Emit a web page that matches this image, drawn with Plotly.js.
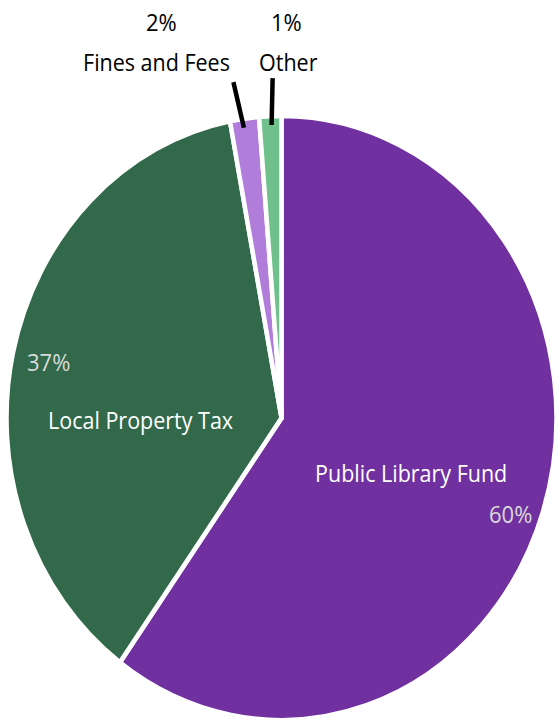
<!DOCTYPE html>
<html>
<head>
<meta charset="utf-8">
<script src="https://cdn.plot.ly/plotly-3.0.1.min.js"></script>
<style>
  html, body { margin:0; padding:0; background:#ffffff; overflow:hidden; width:557px; height:721px; }
  #chart { width:557px; height:656px; transform:scaleY(1.09909); transform-origin:0 0; }
</style>
</head>
<body>
<div id="chart"></div>
<script>
// ---- data ----
const categories = ['Public Library Fund', 'Local Property Tax', 'Fines and Fees', 'Other'];
const shares = [60.0, 37.0, 1.7, 1.3];
const sliceColors = ['#7030A0', '#31694A', '#B07DDA', '#70C08C'];

// ---- layout helpers ----
const W = 557, H = 656, S = 721 / 656;
const CX = 281.5, CY = 418 / S, R = 275;          // pie centre / radius in unscaled px
const px = x => x / W;
const py = y => 1 - (y / S) / H;                   // y measured on the final (scaled) picture

const total = shares.reduce((a, b) => a + b, 0);
const pctText = shares.map(v => Math.round(v / total * 100) + '%');

// mid angle (deg, clockwise from 12 o'clock) of each slice
const midAngles = [];
let cum = 0;
shares.forEach(v => { const a = v / total * 360; midAngles.push(cum + a / 2); cum += a; });
const polar = (deg, frac) => {
  const t = deg * Math.PI / 180;
  return { x: (CX + Math.sin(t) * R * frac) / W, y: 1 - (CY - Math.cos(t) * R * frac) / H };
};

// text placement (picture pixels) and leader-line tilt tweak
const labelPlace = {
  'Public Library Fund': { name: [411, 473], pct: [510, 513], inside: true },
  'Local Property Tax':  { name: [141, 419], pct: [48, 362],  inside: true },
  'Fines and Fees':      { name: [156, 62],  pct: [161, 21],  inside: false, tilt: -1.2 },
  'Other':               { name: [289, 62],  pct: [286, 21],  inside: false, tilt: 0.7 }
};

const annotations = [];
const shapes = [];
categories.forEach((c, i) => {
  const p = labelPlace[c];
  annotations.push({
    text: c, x: px(p.name[0]), y: py(p.name[1]), xref: 'paper', yref: 'paper',
    xanchor: 'center', yanchor: 'middle', showarrow: false,
    font: { family: 'Open Sans', size: 21.5, color: p.inside ? '#ffffff' : '#000000' }
  });
  annotations.push({
    text: pctText[i], x: px(p.pct[0]), y: py(p.pct[1]), xref: 'paper', yref: 'paper',
    xanchor: 'center', yanchor: 'middle', showarrow: false,
    font: { family: 'Open Sans', size: 22, color: p.inside ? '#D9D9D9' : '#000000' }
  });
  if (!p.inside) {
    const a = polar(midAngles[i] + p.tilt * 0.3, 0.97), b = polar(midAngles[i] + p.tilt, 1.125);
    shapes.push({ type: 'line', xref: 'paper', yref: 'paper', x0: a.x, y0: a.y, x1: b.x, y1: b.y,
      line: { color: '#000000', width: 4.5 } });
  }
});

const data = [{
  type: 'pie',
  labels: categories,
  values: shares,
  sort: false,
  direction: 'clockwise',
  rotation: 0,
  textinfo: 'none',
  hoverinfo: 'none',
  marker: { colors: sliceColors, line: { color: '#ffffff', width: 4.5 } },
  domain: { x: [(CX - R) / W, (CX + R) / W], y: [1 - (CY + R) / H, 1 - (CY - R) / H] }
}];

const layout = {
  width: W, height: H,
  margin: { l: 0, r: 0, t: 0, b: 0 },
  paper_bgcolor: '#ffffff',
  showlegend: false,
  annotations: annotations,
  shapes: shapes
};

Plotly.newPlot('chart', data, layout, { staticPlot: true, displayModeBar: false });
</script>
</body>
</html>
